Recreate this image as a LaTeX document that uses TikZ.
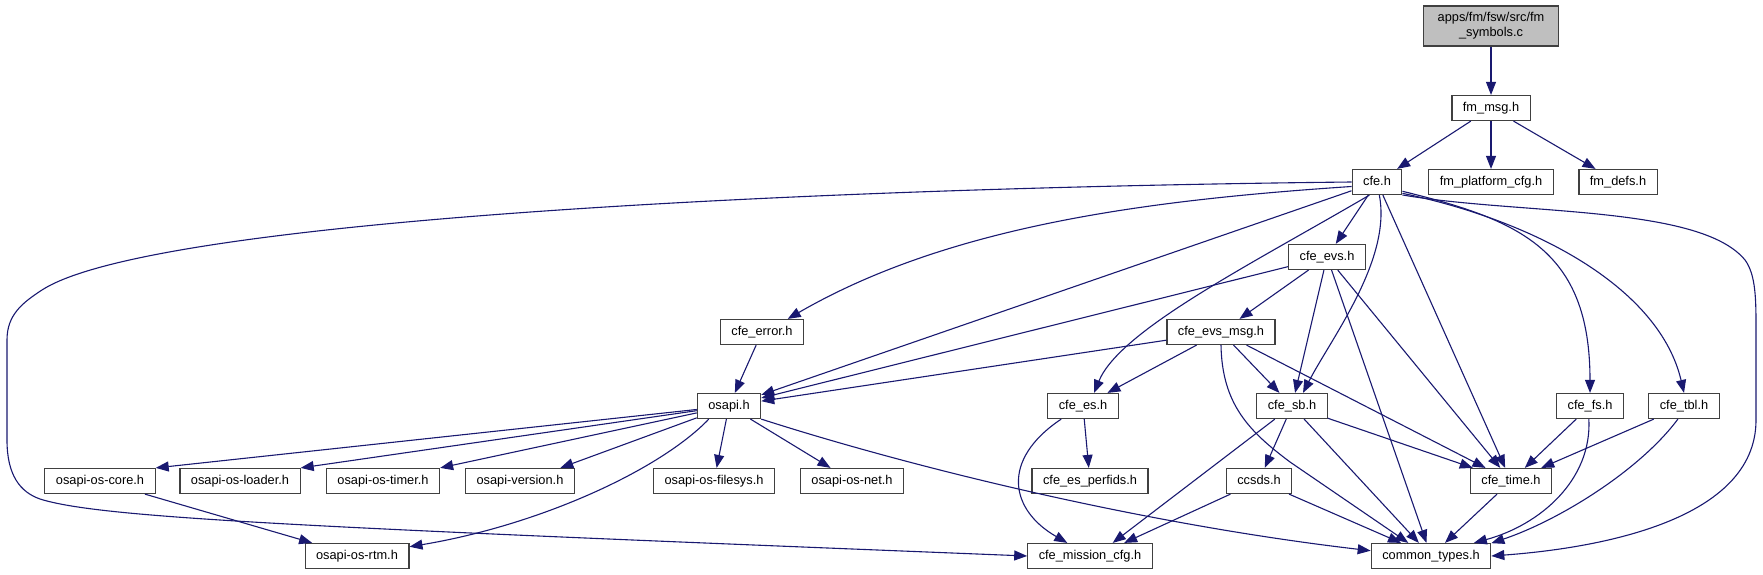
\documentclass[tikz,border=0pt]{standalone}
\usepackage{fontspec}
\setmainfont{Liberation Sans}
\usepackage{xcolor}
\usetikzlibrary{arrows.meta, positioning}

\definecolor{edgeblue}{HTML}{191970}
\definecolor{boxline}{HTML}{404040}
\definecolor{boxgray}{HTML}{BFBFBF}

\begin{document}
\begin{tikzpicture}[
  x=1pt, y=-1pt,
  hdr/.style={rectangle, draw=boxline, line width=1.2pt, fill=white, text centered, inner xsep=11pt, inner ysep=0pt, minimum height=25pt, text height=9.5pt, text depth=2.5pt, font=\fontsize{12.8}{15}\selectfont},
  srcfile/.style={rectangle, draw=boxline, line width=1.2pt, fill=boxgray, align=center, inner xsep=14pt, inner ysep=0pt, minimum height=40pt, font=\fontsize{12.8}{15}\selectfont},
  arrow/.style={->, >={Triangle[length=13pt,width=10pt]}, line width=1.1pt, draw=edgeblue}
]
\useasboundingbox (0,0) rectangle (1763,575);

% files
\node[srcfile] (root) at (1491,26) {apps/fm/fsw/src/fm\\\_symbols.c};
\node[hdr] (fmmsg) at (1491,108) {fm\_msg.h};
\node[hdr] (cfe) at (1377,182) {cfe.h};
\node[hdr] (fmplat) at (1491,182) {fm\_platform\_cfg.h};
\node[hdr] (fmdefs) at (1618,182) {fm\_defs.h};
\node[hdr] (cfeevs) at (1327,257) {cfe\_evs.h};
\node[hdr] (cfeerror) at (762,332) {cfe\_error.h};
\node[hdr] (cfeevsmsg) at (1221,332) {cfe\_evs\_msg.h};
\node[hdr] (osapi) at (729,406) {osapi.h};
\node[hdr] (cfees) at (1083,406) {cfe\_es.h};
\node[hdr] (cfesb) at (1292,406) {cfe\_sb.h};
\node[hdr] (cfefs) at (1590,406) {cfe\_fs.h};
\node[hdr] (cfetbl) at (1684,406) {cfe\_tbl.h};
\node[hdr] (oscore) at (100,481) {osapi-os-core.h};
\node[hdr] (osloader) at (240,481) {osapi-os-loader.h};
\node[hdr] (ostimer) at (383,481) {osapi-os-timer.h};
\node[hdr] (osversion) at (520,481) {osapi-version.h};
\node[hdr] (osfilesys) at (714,481) {osapi-os-filesys.h};
\node[hdr] (osnet) at (852,481) {osapi-os-net.h};
\node[hdr] (perfids) at (1090,481) {cfe\_es\_perfids.h};
\node[hdr] (ccsds) at (1259,481) {ccsds.h};
\node[hdr] (cfetime) at (1511,481) {cfe\_time.h};
\node[hdr] (osrtm) at (357,556) {osapi-os-rtm.h};
\node[hdr] (missioncfg) at (1090,556) {cfe\_mission\_cfg.h};
\node[hdr] (commontypes) at (1431,556) {common\_types.h};

% includes
\draw[arrow] (root) -- (fmmsg);
\draw[arrow] (fmmsg) -- (cfe);
\draw[arrow] (fmmsg) -- (fmplat);
\draw[arrow] (fmmsg) -- (fmdefs);

\draw[arrow] (cfe.west) .. controls (800,188) and (150,220) .. (42,290) .. controls (22,303) and (7,315) .. (7,340) -- (7,440) .. controls (7,475) and (20,492) .. (40,499) .. controls (100,518) and (300,527) .. (missioncfg.west);
\draw[arrow] (cfe.190) .. controls (1150,200) and (950,225) .. (cfeerror.27);
\draw[arrow] (cfe) -- (osapi);
\draw[arrow] (cfe.240) .. controls (1250,265) and (1120,330) .. (cfees.50);
\draw[arrow] (cfe) -- (cfeevs);
\draw[arrow] (cfe.280) .. controls (1392,260) and (1330,340) .. (cfesb.50);
\draw[arrow] (cfe) -- (cfetime);
\draw[arrow] (cfe.340) .. controls (1520,220) and (1590,250) .. (cfefs.north);
\draw[arrow] (cfe.336) .. controls (1540,222) and (1660,290) .. (cfetbl.north);
\draw[arrow] (cfe.333) .. controls (1520,215) and (1700,205) .. (1745,260) .. controls (1756,275) and (1756,300) .. (1756,330) -- (1756,420) .. controls (1756,520) and (1600,548) .. (commontypes.east);

\draw[arrow] (cfeevs) -- (cfeevsmsg);
\draw[arrow] (cfeevs) -- (osapi);
\draw[arrow] (cfeevs) -- (cfesb);
\draw[arrow] (cfeevs) -- (commontypes);
\draw[arrow] (cfeevs) -- (cfetime);

\draw[arrow] (cfeerror) -- (osapi);

\draw[arrow] (cfeevsmsg) -- (osapi);
\draw[arrow] (cfeevsmsg) -- (cfees);
\draw[arrow] (cfeevsmsg) -- (cfesb);
\draw[arrow] (cfeevsmsg.south) .. controls (1222,405) and (1250,432) .. (1290,462) -- (commontypes.150);
\draw[arrow] (cfeevsmsg) -- (cfetime);

\draw[arrow] (osapi) -- (oscore.north east);
\draw[arrow] (osapi) -- (osloader.north east);
\draw[arrow] (osapi) -- (ostimer.north east);
\draw[arrow] (osapi) -- (osversion.18);
\draw[arrow] (osapi) -- (osfilesys);
\draw[arrow] (osapi) -- (osnet);
\draw[arrow] (osapi.213) .. controls (660,470) and (540,525) .. (osrtm.10);
\draw[arrow] (osapi.south east) .. controls (920,470) and (1150,525) .. (commontypes.175);

\draw[arrow] (cfees) -- (perfids);
\draw[arrow] (cfees.211) .. controls (1000,460) and (1010,510) .. (missioncfg.150);

\draw[arrow] (cfesb) -- (ccsds);
\draw[arrow] (cfesb) -- (missioncfg.30);
\draw[arrow] (cfesb) -- (commontypes);
\draw[arrow] (cfesb) -- (cfetime);

\draw[arrow] (cfefs) -- (cfetime);
\draw[arrow] (cfefs.265) .. controls (1592,480) and (1540,525) .. (commontypes.17);
\draw[arrow] (cfetbl) -- (cfetime);
\draw[arrow] (cfetbl.245) .. controls (1640,470) and (1560,520) .. (commontypes.12);

\draw[arrow] (ccsds) -- (missioncfg.21);
\draw[arrow] (ccsds) -- (commontypes);
\draw[arrow] (cfetime) -- (commontypes);
\draw[arrow] (oscore) -- (osrtm);
\end{tikzpicture}
\end{document}
